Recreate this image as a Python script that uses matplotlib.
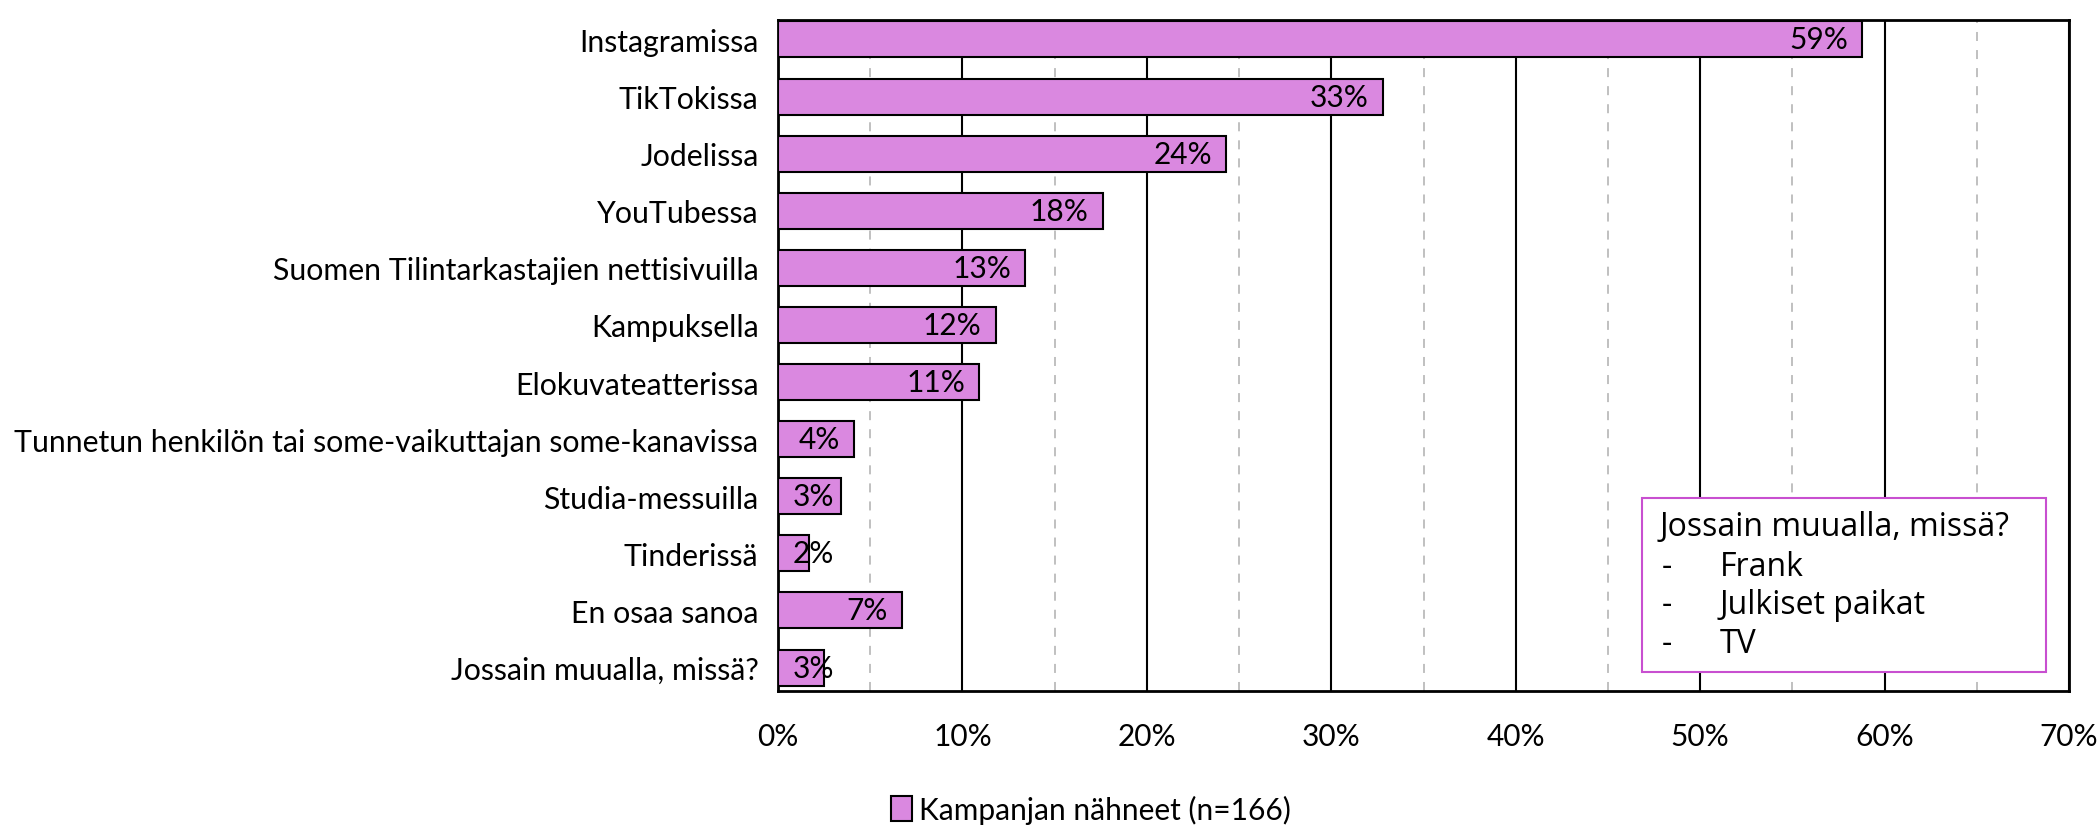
import matplotlib.pyplot as plt
from matplotlib.patches import Rectangle
from matplotlib.ticker import MultipleLocator, PercentFormatter

plt.rcParams["font.family"] = ["Lato", "DejaVu Sans"]

categories = [
    "Instagramissa",
    "TikTokissa",
    "Jodelissa",
    "YouTubessa",
    "Suomen Tilintarkastajien nettisivuilla",
    "Kampuksella",
    "Elokuvateatterissa",
    "Tunnetun henkilön tai some-vaikuttajan some-kanavissa",
    "Studia-messuilla",
    "Tinderissä",
    "En osaa sanoa",
    "Jossain muualla, missä?",
]
values = [58.8, 32.8, 24.3, 17.6, 13.4, 11.8, 10.9, 4.1, 3.4, 1.7, 6.7, 2.5]
labels = ["59%", "33%", "24%", "18%", "13%", "12%", "11%", "4%", "3%", "2%", "7%", "3%"]
series_name = "Kampanjan nähneet (n=166)"
box_title = "Jossain muualla, missä?"
box_items = ["Frank", "Julkiset paikat", "TV"]

BAR_COLOR = "#DA88E0"
BOX_EDGE = "#C84FD0"
W, H = 2100, 828
FS = 21.5
BOX_FS = 23

fig = plt.figure(figsize=(W / 100, H / 100), dpi=100)
ax = fig.add_axes([778 / W, 1 - 692 / H, (2069 - 778) / W, (692 - 21) / H])

ypos = list(range(len(categories)))
ax.barh(ypos, values, height=0.63, color=BAR_COLOR, edgecolor="black",
        linewidth=1.5, zorder=3)

# value labels at the inside end; small bars get pushed out a bit
for y, v, lab in zip(ypos, values, labels):
    ax.annotate(lab, xy=(max(v, 3.8), y), xytext=(-10, 0), textcoords="offset points",
                ha="right", va="center", fontsize=FS, color="black", zorder=4)

ax.set_xlim(0, 70)
ax.set_ylim(len(categories) - 1 + 0.41, -0.34)
ax.set_yticks(ypos)
ax.set_yticklabels(categories, fontsize=21.8)
ax.xaxis.set_major_locator(MultipleLocator(10))
ax.xaxis.set_minor_locator(MultipleLocator(5))
ax.xaxis.set_major_formatter(PercentFormatter(decimals=0))
ax.tick_params(axis="x", which="both", length=0, labelsize=FS, pad=22)
ax.tick_params(axis="y", length=0, pad=14)
ax.grid(axis="x", which="major", color="black", linewidth=1.5, zorder=0)
ax.grid(axis="x", which="minor", color="#BBBBBB", linewidth=1.3,
        linestyle=(0, (5, 5)), zorder=0)
ax.set_axisbelow(True)
for s in ax.spines.values():
    s.set_linewidth(2)
    s.set_color("black")

# legend below the plot
handle = Rectangle((0, 0), 1, 1, facecolor=BAR_COLOR, edgecolor="black", linewidth=1.5)
fig.legend([handle], [series_name], loc="center", bbox_to_anchor=(1091 / W, 1 - 810 / H),
           frameon=False, fontsize=FS, handlelength=0.7, handleheight=0.9,
           handletextpad=0.25)

# text box for "Jossain muualla"
box_font = ["Open Sans", "DejaVu Sans"]
fig.patches.append(Rectangle((1642 / W, 1 - 673 / H), (2046 - 1642) / W, (673 - 499) / H,
                             transform=fig.transFigure, facecolor="white",
                             edgecolor=BOX_EDGE, linewidth=1.5, zorder=5))
fig.text(1660 / W, 1 - 528 / H, box_title, fontsize=BOX_FS, family=box_font,
         va="center", ha="left", zorder=6)
for i, item in enumerate(box_items):
    yy = 1 - (567 + i * 39) / H
    fig.text(1662 / W, yy, "-", fontsize=BOX_FS, family=box_font,
             va="center", ha="left", zorder=6)
    fig.text(1720 / W, yy, item, fontsize=BOX_FS, family=box_font,
             va="center", ha="left", zorder=6)

fig.savefig("out.png", dpi=100)
